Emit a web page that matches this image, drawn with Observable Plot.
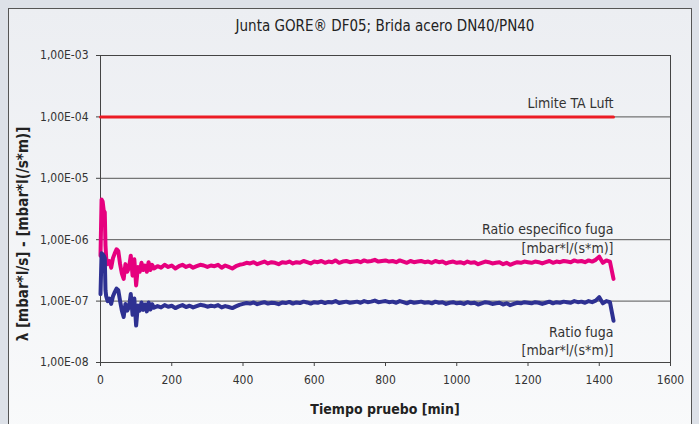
<!DOCTYPE html>
<html><head><meta charset="utf-8">
<script src="https://cdn.jsdelivr.net/npm/d3@7"></script>
<script src="https://cdn.jsdelivr.net/npm/@observablehq/plot@0.6"></script>
<style>
body{margin:0;background:#dde1e8;width:699px;height:424px;overflow:hidden;font-family:"Liberation Sans Narrow","DejaVu Sans Condensed",sans-serif;color:#222;}
#panel{position:absolute;left:8px;top:8px;width:682px;height:430px;border:1px solid #555;background:linear-gradient(#eceef2,#f9fafb);}
#chart{position:absolute;left:0;top:0;}
#title{position:absolute;left:100px;width:570px;top:17px;text-align:center;font-size:15px;}
#ylabel{position:absolute;left:23px;top:234px;transform:translate(-50%,-50%) rotate(-90deg);white-space:nowrap;font-weight:bold;font-size:15px;}
#xlabel{position:absolute;left:100px;width:570px;top:401px;text-align:center;font-weight:bold;font-size:14px;}
</style></head>
<body>
<div id="panel"></div>
<div id="title">Junta GORE® DF05; Brida acero DN40/PN40</div>
<div id="ylabel">λ [mbar*l/s] - [mbar*l(/s*m)]</div>
<div id="xlabel">Tiempo pruebo [min]</div>
<div id="chart"></div>
<script>
const xTicks = [0,200,400,600,800,1000,1200,1400,1600];
const xTickLabels = ["0","200","400","600","800","1000","1200","1400","1600"];
const yTicks = [1e-8,1e-7,1e-6,1e-5,1e-4,1e-3];
const yTickLabels = ["1,00E-08","1,00E-07","1,00E-06","1,00E-05","1,00E-04","1,00E-03"];

const tiempo = [0,3,6,9,12,14,16,20,25,30,35,40,45,50,55,60,65,70,75,80,85,90,95,100,105,110,115,120,125,130,135,140,145,150,
160,170,180,190,200,210,220,230,240,250,260,270,280,290,300,
310,320,330,340,350,360,370,380,390,400,
410,420,430,440,450,460,470,480,490,500,
510,520,530,540,550,560,570,580,590,600,
610,620,630,640,650,660,670,680,690,700,
710,720,730,740,750,760,770,780,790,800,
810,820,830,840,850,860,870,880,890,900,
910,920,930,940,950,960,970,980,990,1000,
1010,1020,1030,1040,1050,1060,1070,1080,1090,1100,
1110,1120,1130,1140,1150,1160,1170,1180,1190,1200,
1210,1220,1230,1240,1250,1260,1270,1280,1290,1300,
1310,1320,1330,1340,1350,1360,1370,1380,1390,1400,
1410,1420,1430,1440];

const ratioEspecifico = [5.5e-7,4.5e-6,4.2e-6,3.0e-6,2.8e-6,8.0e-7,5.0e-7,4.0e-7,4.5e-7,3.5e-7,
5.0e-7,6.0e-7,7.0e-7,6.5e-7,4.0e-7,2.8e-7,2.3e-7,4.0e-7,3.0e-7,3.5e-7,
5.5e-7,2.6e-7,4.8e-7,1.8e-7,3.6e-7,3.0e-7,4.2e-7,3.2e-7,3.8e-7,3.0e-7,
4.3e-7,3.2e-7,3.9e-7,3.4e-7,
3.7e-7,3.5e-7,3.9e-7,3.6e-7,3.8e-7,3.4e-7,3.7e-7,3.9e-7,3.6e-7,3.8e-7,3.5e-7,3.7e-7,3.9e-7,3.8e-7,3.6e-7,
3.8e-7,3.7e-7,3.9e-7,3.5e-7,3.8e-7,3.6e-7,3.4e-7,3.7e-7,3.9e-7,4.0e-7,
4.2e-7,4.1e-7,4.3e-7,4.0e-7,4.2e-7,4.4e-7,4.1e-7,4.3e-7,4.2e-7,4.0e-7,
4.3e-7,4.2e-7,4.4e-7,4.1e-7,4.3e-7,4.2e-7,4.5e-7,4.3e-7,4.1e-7,4.4e-7,
4.3e-7,4.5e-7,4.2e-7,4.4e-7,4.3e-7,4.6e-7,4.2e-7,4.4e-7,4.5e-7,4.3e-7,
4.4e-7,4.5e-7,4.3e-7,4.6e-7,4.4e-7,4.5e-7,4.7e-7,4.4e-7,4.5e-7,4.6e-7,
4.4e-7,4.5e-7,4.3e-7,4.6e-7,4.4e-7,4.2e-7,4.5e-7,4.3e-7,4.4e-7,4.5e-7,
4.3e-7,4.4e-7,4.2e-7,4.5e-7,4.3e-7,4.4e-7,4.1e-7,4.3e-7,4.4e-7,4.2e-7,
4.3e-7,4.1e-7,4.4e-7,4.2e-7,4.3e-7,4.0e-7,4.2e-7,4.4e-7,4.3e-7,4.1e-7,
4.2e-7,4.3e-7,4.0e-7,4.2e-7,3.9e-7,4.1e-7,4.3e-7,4.2e-7,4.4e-7,4.3e-7,
4.2e-7,4.4e-7,4.3e-7,4.1e-7,4.3e-7,4.5e-7,4.2e-7,4.4e-7,4.3e-7,4.5e-7,
4.4e-7,4.3e-7,4.6e-7,4.4e-7,4.5e-7,4.3e-7,4.6e-7,4.4e-7,4.7e-7,5.3e-7,
4.2e-7,4.6e-7,4.4e-7,2.3e-7];

const ratioFuga = [1.3e-7,6.0e-7,5.8e-7,5.5e-7,5.0e-7,1.5e-7,1.2e-7,1.0e-7,1.1e-7,9.0e-8,
1.2e-7,1.4e-7,1.6e-7,1.5e-7,1.0e-7,7.0e-8,5.5e-8,9.0e-8,7.0e-8,8.0e-8,
1.3e-7,6.0e-8,1.1e-7,4.0e-8,8.5e-8,7.0e-8,9.5e-8,7.2e-8,8.8e-8,6.8e-8,
9.5e-8,7.3e-8,8.9e-8,7.8e-8,
8.3e-8,7.9e-8,8.6e-8,8.1e-8,8.4e-8,7.7e-8,8.2e-8,8.6e-8,8.0e-8,8.4e-8,7.9e-8,8.3e-8,8.7e-8,8.5e-8,8.1e-8,
8.4e-8,8.2e-8,8.6e-8,7.9e-8,8.3e-8,8.0e-8,7.7e-8,8.2e-8,8.7e-8,9.0e-8,
9.3e-8,9.1e-8,9.5e-8,8.9e-8,9.3e-8,9.6e-8,9.1e-8,9.4e-8,9.3e-8,8.9e-8,
9.5e-8,9.3e-8,9.7e-8,9.1e-8,9.5e-8,9.3e-8,9.8e-8,9.5e-8,9.1e-8,9.6e-8,
9.4e-8,9.8e-8,9.3e-8,9.7e-8,9.5e-8,1.00e-7,9.3e-8,9.6e-8,9.8e-8,9.4e-8,
9.6e-8,9.8e-8,9.4e-8,1.00e-7,9.6e-8,9.8e-8,1.02e-7,9.6e-8,9.8e-8,1.00e-7,
9.6e-8,9.8e-8,9.4e-8,1.00e-7,9.6e-8,9.2e-8,9.8e-8,9.4e-8,9.6e-8,9.8e-8,
9.4e-8,9.6e-8,9.2e-8,9.8e-8,9.4e-8,9.6e-8,9.0e-8,9.4e-8,9.6e-8,9.2e-8,
9.4e-8,9.0e-8,9.6e-8,9.2e-8,9.4e-8,8.8e-8,9.2e-8,9.6e-8,9.4e-8,9.0e-8,
9.2e-8,9.4e-8,8.8e-8,9.2e-8,8.6e-8,9.0e-8,9.4e-8,9.2e-8,9.6e-8,9.4e-8,
9.2e-8,9.6e-8,9.4e-8,9.0e-8,9.4e-8,9.8e-8,9.2e-8,9.6e-8,9.4e-8,9.8e-8,
9.6e-8,9.4e-8,1.00e-7,9.6e-8,9.8e-8,9.4e-8,1.00e-7,9.6e-8,1.02e-7,1.16e-7,
9.2e-8,1.00e-7,9.6e-8,4.8e-8];

const limiteTiempo = [0,1440];
const limiteValor = [1e-4,1e-4];

const etiquetas = ["Limite TA Luft","Ratio especifico fuga\n[mbar*l/(s*m)]","Ratio fuga\n[mbar*l/(s*m)]"];
const etiquetaX = [1440,1440,1440];
const etiquetaY = [1e-4,1e-6,1e-7];
const etiquetaDy = [-15,-2,39];

const especificoData = tiempo.map((t,i)=>({t, v: ratioEspecifico[i]}));
const fugaData = tiempo.map((t,i)=>({t, v: ratioFuga[i]}));
const limiteData = limiteTiempo.map((t,i)=>({t, v: limiteValor[i]}));
const etiquetaData = etiquetas.map((s,i)=>({s, x: etiquetaX[i], y: etiquetaY[i], dy: etiquetaDy[i]}));

const font = '"Liberation Sans Narrow","DejaVu Sans Condensed",sans-serif';
const chart = Plot.plot({
  width: 699, height: 424,
  marginLeft: 100, marginRight: 29, marginTop: 55, marginBottom: 62,
  style: {background: "transparent", fontFamily: font, fontSize: "12px", color: "#333"},
  x: {domain: [0,1600], ticks: xTicks, label: null},
  y: {type: "log", domain: [1e-8,1e-3], ticks: yTicks, label: null},
  marks: [
    Plot.gridY(yTicks, {stroke: "#555", strokeOpacity: 1, strokeWidth: 1}),
    Plot.frame({stroke: "#444"}),
    Plot.axisX(xTicks, {tickSize: 4, tickPadding: 9, fontSize: 12, label: null, stroke: "#444",
      tickFormat: d => xTickLabels[xTicks.indexOf(d)]}),
    Plot.axisY(yTicks, {tickSize: 4, tickPadding: 8, fontSize: 12, label: null, stroke: "#444",
      tickFormat: d => yTickLabels[yTicks.indexOf(d)]}),
    Plot.line(limiteData, {x: "t", y: "v", stroke: "#ec1c24", strokeWidth: 3}),
    Plot.line(especificoData, {x: "t", y: "v", stroke: "#e6007e", strokeWidth: 4, curve: "linear"}),
    Plot.line(fugaData, {x: "t", y: "v", stroke: "#2e3192", strokeWidth: 4, curve: "linear"}),
    ...etiquetaData.map(e => Plot.text([e], {x: "x", y: "y", text: "s", dy: e.dy, textAnchor: "end",
      lineAnchor: "middle", lineHeight: 1.3, fontSize: 14, fill: "#333", fontFamily: font}))
  ]
});
document.getElementById("chart").appendChild(chart);
</script>
</body></html>
